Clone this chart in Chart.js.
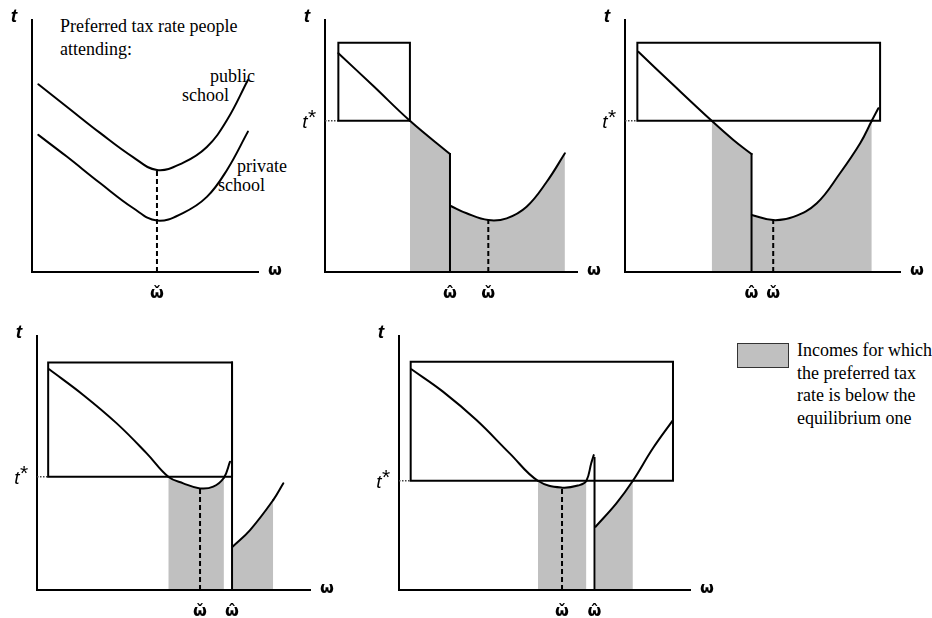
<!DOCTYPE html>
<html><head><meta charset="utf-8">
<script src="https://cdn.jsdelivr.net/npm/chart.js@4"></script>
<style>
html,body{margin:0;padding:0;background:#fff;overflow:hidden;width:932px;height:618px}
#wrap{position:relative;width:932px;height:618px;overflow:hidden}
canvas{position:absolute}
.txt{position:absolute;font-family:'Liberation Serif','Times New Roman','DejaVu Serif',serif;font-size:18px;line-height:23px;color:#000;white-space:nowrap}
#legbox{position:absolute;left:737px;top:343px;width:50px;height:23px;background:#c0c0c0;border:1.5px solid #333}
</style></head><body><div id="wrap">
<div class="txt" style="left:60px;top:15px;line-height:23.4px">Preferred tax rate people<br>attending:</div>
<div class="txt" style="left:210px;top:65px">public</div>
<div class="txt" style="left:182px;top:84px">school</div>
<div class="txt" style="left:237px;top:155px">private</div>
<div class="txt" style="left:218px;top:174px">school</div>
<div id="legbox"></div>
<div class="txt" style="left:797px;top:339px;line-height:22.7px">Incomes for which<br>the preferred tax<br>rate is below the<br>equilibrium one</div>
</div>
<script>
// ===== DATA (omega on x, preferred tax rate t on y; t axis runs 0..100 in every panel) =====
// Panel 1: two preference curves
const P1_PUBLIC  = [[2.5,74.5],[13.8,65.6],[27,55.2],[40.1,45.6],[49.6,40.5],[59.9,43.3],[69.4,49.6],[77.4,60.3],[85.7,76.2]];
const P1_PRIVATE = [[2.5,54.4],[13.8,45.8],[27,35.3],[40.1,25.4],[49.6,20.4],[59.9,23.4],[69.4,29.8],[77.4,40.5],[85.7,55.7]];
const P1_OMEGA_CHECK = 49.6;

// Panel 2
const P2_T_STAR = 60;
const P2_BOX = [5.3, 33.7, 91];            // omega left, omega right, t top
const P2_UPPER = [[5.3,86.8],[19.2,73.8],[33.7,60],[49.6,46.8]];
const P2_LOWER = [[49.9,26.2],[56.2,23.3],[64.8,20.6],[72.1,21.3],[80,25.9],[88,35.8],[95.2,47.1]];
const P2_OMEGA_HAT = 49.6, P2_OMEGA_CHECK = 64.8;
const P2_SHADE_UPPER = [33.7, 49.6], P2_SHADE_LOWER = [49.9, 95.2];

// Panel 3
const P3_T_STAR = 60;
const P3_BOX = [4.9, 101.2, 91];
const P3_UPPER = [[5.3,87.4],[19.2,74.2],[34.4,60],[43,52.4],[50.2,46.8]];
const P3_LOWER = [[50.3,22.6],[58.8,20.6],[66.8,21.9],[76.1,27.3],[85.3,39.2],[93.3,51.1],[97.9,60],[100.5,65]];
const P3_OMEGA_HAT = 50.2, P3_OMEGA_CHECK = 58.8;
const P3_SHADE_UPPER = [34.4, 50.2], P3_SHADE_LOWER = [50.3, 97.9];

// Panel 4
const P4_T_STAR = 44.6;
const P4_BOX = [4.4, 76.8, 89.6];
const P4_UPPER = [[4.8,86.9],[18.2,76.8],[31.4,65.6],[43.2,53.8],[51.7,44.6],[57.6,42],[64.2,40],[69.4,40.7],[73.6,44.2],[76,50.5]];
const P4_LOWER = [[77,17],[83.9,23.6],[93,35.4],[97,42]];
const P4_OMEGA_HAT = 76.8, P4_OMEGA_CHECK = 64.2, P4_HAT_TOP = 89.6;
const P4_SHADE_UPPER = [51.7, 73.6], P4_SHADE_LOWER = [77, 93];

// Panel 5
const P5_T_STAR = 43;
const P5_BOX = [4.6, 107.9, 89.9];
const P5_UPPER = [[4.9,86.9],[17.3,78.1],[30.5,66.9],[43.6,53.8],[54.7,43],[64.2,40.3],[71.1,41.3],[73.8,43],[75.7,49.9],[76.7,53.1]];
const P5_LOWER = [[77.4,24.9],[85.6,34.1],[92.1,43],[100,55.8],[107.9,66.9]];
const P5_OMEGA_HAT = 77.0, P5_OMEGA_CHECK = 64.2, P5_HAT_TOP = 52;
const P5_SHADE_UPPER = [54.7, 73.8], P5_SHADE_LOWER = [77.4, 92.1];

// ===== STYLE / HELPERS =====
const SHADE = '#c0c0c0';
const INK = '#000';
const CHECK = '\u030C', HAT = '\u0302';
const pts = a => a.map(([x, y]) => ({x, y}));

function curve(arr, range) {
  const ds = {data: pts(arr), borderColor: INK, borderWidth: 2, pointRadius: 0, tension: 0.4,
    clip: false, fill: false, backgroundColor: 'rgba(0,0,0,0)', borderCapStyle: 'round'};
  if (range) {
    ds.fill = 'origin';
    ds.segment = {backgroundColor: c => {
      const a = arr[c.p0DataIndex][0], b = arr[c.p1DataIndex][0];
      return (a >= range[0] - 1e-6 && b <= range[1] + 1e-6) ? SHADE : undefined;
    }};
  }
  return ds;
}
function seg(arr, dash, width) {
  return {data: pts(arr), borderColor: INK, borderWidth: width || 2, pointRadius: 0, tension: 0,
    clip: false, fill: false, borderDash: dash || [], borderCapStyle: dash ? 'butt' : 'square', borderJoinStyle: 'miter'};
}
function axes(xMax) {
  return [seg([[0, 100], [0, 0], [xMax, 0]])];
}
function box(b, tStar) {
  return [seg([[b[0], tStar], [b[0], b[2]], [b[1], b[2]], [b[1], tStar], [b[0], tStar]]),
          {...seg([[0, tStar], [b[0], tStar]], [1.5, 1.5], 1.5), borderColor: '#444'}];
}

const labelPlugin = {
  id: 'panelLabels',
  afterDraw(chart, args, opts) {
    const {ctx, chartArea: a, scales: {x, y}} = chart;
    ctx.save();
    ctx.fillStyle = INK; ctx.textAlign = 'center'; ctx.textBaseline = 'middle';
    ctx.font = 'italic bold 19px "Liberation Sans", Arial, sans-serif';
    ctx.fillText('t', a.left - 18, a.top - 3);
    ctx.font = 'bold 16px "DejaVu Sans", sans-serif';
    ctx.fillText('\u03C9', a.right + 17, a.bottom - 1);
    if (opts.tStar != null) {
      const py = y.getPixelForValue(opts.tStar);
      ctx.font = 'italic 19px "Liberation Sans", Arial, sans-serif';
      ctx.fillText('t', a.left - 20, py + 2);
      ctx.font = '21px "Liberation Sans", Arial, sans-serif';
      ctx.fillText('*', a.left - 13, py - 3);
    }
    ctx.font = 'bold 16px "DejaVu Sans", sans-serif';
    for (const m of opts.marks || []) {
      ctx.fillText('\u03C9' + m.accent, x.getPixelForValue(m.value), a.bottom + 22);
    }
    ctx.restore();
  }
};

// ===== PANELS =====
const panels = [
  {area: {left: 32, top: 20, width: 226, height: 252}, xMax: 89.7, tStar: null,
   marks: [{value: P1_OMEGA_CHECK, accent: CHECK}],
   datasets: [curve(P1_PUBLIC), curve(P1_PRIVATE),
              seg([[P1_OMEGA_CHECK, 0], [P1_OMEGA_CHECK, 40.5]], [5, 3])]},
  {area: {left: 325, top: 20, width: 252, height: 252}, xMax: 100, tStar: P2_T_STAR,
   marks: [{value: P2_OMEGA_HAT, accent: HAT}, {value: P2_OMEGA_CHECK, accent: CHECK}],
   datasets: [curve(P2_UPPER, P2_SHADE_UPPER), curve(P2_LOWER, P2_SHADE_LOWER),
              seg([[P2_OMEGA_HAT, P2_UPPER[P2_UPPER.length - 1][1]], [P2_OMEGA_HAT, 0]]),
              seg([[P2_OMEGA_CHECK, 0], [P2_OMEGA_CHECK, 20.6]], [5, 3]),
              ...box(P2_BOX, P2_T_STAR)]},
  {area: {left: 625, top: 20, width: 275, height: 252}, xMax: 109.1, tStar: P3_T_STAR,
   marks: [{value: P3_OMEGA_HAT, accent: HAT}, {value: P3_OMEGA_CHECK, accent: CHECK}],
   datasets: [curve(P3_UPPER, P3_SHADE_UPPER), curve(P3_LOWER, P3_SHADE_LOWER),
              seg([[P3_OMEGA_HAT, P3_UPPER[P3_UPPER.length - 1][1]], [P3_OMEGA_HAT, 0]]),
              seg([[P3_OMEGA_CHECK, 0], [P3_OMEGA_CHECK, 20.6]], [5, 3]),
              ...box(P3_BOX, P3_T_STAR)]},
  {area: {left: 37, top: 336, width: 273, height: 254}, xMax: 107.5, tStar: P4_T_STAR,
   marks: [{value: P4_OMEGA_CHECK, accent: CHECK}, {value: P4_OMEGA_HAT, accent: HAT}],
   datasets: [curve(P4_UPPER, P4_SHADE_UPPER), curve(P4_LOWER, P4_SHADE_LOWER),
              seg([[P4_OMEGA_HAT, P4_HAT_TOP], [P4_OMEGA_HAT, 0]]),
              seg([[P4_OMEGA_CHECK, 0], [P4_OMEGA_CHECK, 40]], [5, 3]),
              ...box(P4_BOX, P4_T_STAR)]},
  {area: {left: 399, top: 336, width: 291, height: 254}, xMax: 114.6, tStar: P5_T_STAR,
   marks: [{value: P5_OMEGA_CHECK, accent: CHECK}, {value: P5_OMEGA_HAT, accent: HAT}],
   datasets: [curve(P5_UPPER, P5_SHADE_UPPER), curve(P5_LOWER, P5_SHADE_LOWER),
              seg([[P5_OMEGA_HAT, P5_HAT_TOP], [P5_OMEGA_HAT, 0]]),
              seg([[P5_OMEGA_CHECK, 0], [P5_OMEGA_CHECK, 40.3]], [5, 3]),
              ...box(P5_BOX, P5_T_STAR)]}
];

const PAD = {left: 34, right: 42, top: 24, bottom: 42};
const wrap = document.getElementById('wrap');
for (const p of panels) {
  const cv = document.createElement('canvas');
  const w = p.area.width + PAD.left + PAD.right, h = p.area.height + PAD.top + PAD.bottom;
  cv.width = w; cv.height = h;
  cv.style.width = w + 'px'; cv.style.height = h + 'px';
  cv.style.left = (p.area.left - PAD.left) + 'px';
  cv.style.top = (p.area.top - PAD.top) + 'px';
  wrap.appendChild(cv);
  new Chart(cv, {
    type: 'line',
    data: {datasets: [...p.datasets, ...axes(p.xMax)]},
    options: {
      responsive: false, animation: false, devicePixelRatio: 1, events: [],
      layout: {padding: PAD},
      scales: {x: {type: 'linear', min: 0, max: p.xMax, display: false},
               y: {type: 'linear', min: 0, max: 100, display: false}},
      plugins: {legend: {display: false}, tooltip: {enabled: false},
                filler: {drawTime: 'beforeDatasetsDraw'},
                panelLabels: {tStar: p.tStar, marks: p.marks}}
    },
    plugins: [labelPlugin]
  });
}
</script>
</body></html>
